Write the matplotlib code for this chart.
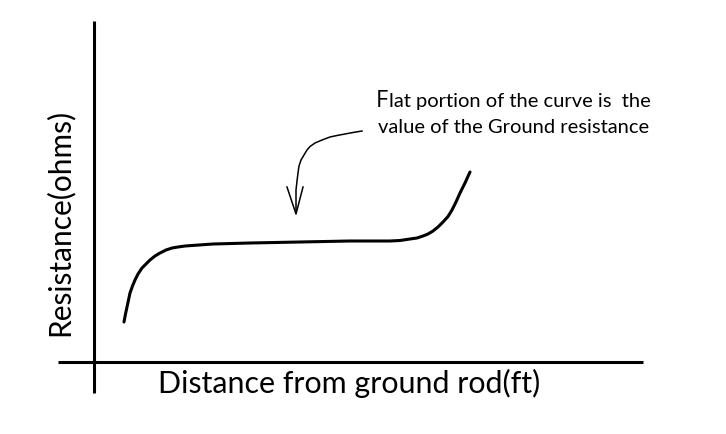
import matplotlib.pyplot as plt

# curva de resistencia (coordenadas en pixeles)
curve_x = [124, 125.5, 127, 128.5, 130, 132.5, 135, 138, 142, 146, 150, 155, 160,
           166, 172, 178, 185, 199, 213, 250, 300, 350, 390, 400, 410, 417, 423,
           428, 433, 438, 443, 448, 452, 456, 460, 465, 470]
curve_y = [322, 314, 307, 300, 293, 286, 280, 274, 268, 264, 260, 256, 253,
           250, 248, 247, 246, 245, 244, 243, 242, 241, 241, 240.5, 239, 238, 236,
           234, 231, 227, 222, 216.5, 210, 202, 193, 183, 172]

# flecha curva
arrow_x = [362, 353, 345, 337, 330, 322, 315, 310, 307, 304, 301, 299, 298, 297, 296, 296]
arrow_y = [131, 132.5, 134, 135.5, 137, 140, 143, 146.5, 150, 155, 160, 166, 173, 181, 190, 213]
head_x = [287, 296, 303]
head_y = [187, 214, 187]

# ejes dibujados a mano
vaxis_x = [94, 94]
vaxis_y = [21, 393]
haxis_x = [58, 643]
haxis_y = [362, 362]

xlabel = 'Distance from ground rod(ft)'
ylabel = 'Resistance(ohms)'
note1_first = 'F'
note1_rest = 'lat portion of the curve is  the'
note2 = 'value of the Ground resistance'

plt.rcParams['font.family'] = ['Lato', 'DejaVu Sans']

fig = plt.figure(figsize=(7.26, 4.34), dpi=100)
ax = fig.add_axes([0, 0, 1, 1])
ax.set_xlim(0, 726)
ax.set_ylim(434, 0)
ax.axis('off')

ax.plot(vaxis_x, vaxis_y, color='black', lw=2.2, solid_capstyle='butt')
ax.plot(haxis_x, haxis_y, color='black', lw=2.2, solid_capstyle='butt')
ax.plot(curve_x, curve_y, color='black', lw=2.2, solid_capstyle='round',
        solid_joinstyle='round')
ax.plot(arrow_x, arrow_y, color='black', lw=1.1)
ax.plot(head_x, head_y, color='black', lw=1.1)

ax.text(158, 393, xlabel, fontsize=21.9, va='baseline', ha='left')
ax.text(45, 336, ylabel, fontsize=21.5, va='bottom', ha='left', rotation=90)

tf = ax.text(376, 107, note1_first, fontsize=17, va='baseline', ha='left',
             family=['Open Sans', 'DejaVu Sans'])
fig.canvas.draw()
bb = tf.get_window_extent()
x_after = ax.transData.inverted().transform((bb.x1, 0))[0]
ax.text(x_after + 1, 107, note1_rest, fontsize=14.5, va='baseline', ha='left')
ax.text(378, 133, note2, fontsize=14.5, va='baseline', ha='left')

fig.savefig('out.png', dpi=100)
